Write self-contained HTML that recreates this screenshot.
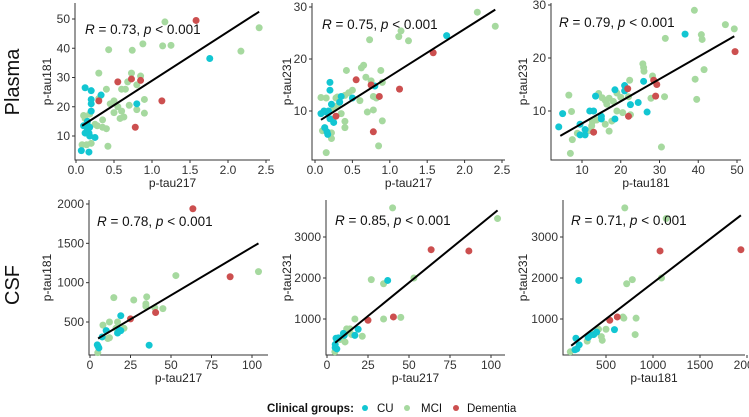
<!DOCTYPE html>
<html><head><meta charset="utf-8"><style>
html,body{margin:0;padding:0;background:#fff;width:749px;height:417px;overflow:hidden}
svg{font-family:"Liberation Sans",Arial,sans-serif}
</style></head><body>
<svg id="fig" width="749" height="417" viewBox="0 0 749 417" xmlns="http://www.w3.org/2000/svg">
<text x="0" y="0" transform="translate(19,82) rotate(-90)" text-anchor="middle" font-size="20" fill="#111">Plasma</text>
<text x="0" y="0" transform="translate(19,285) rotate(-90)" text-anchor="middle" font-size="20" fill="#111">CSF</text>
<g>
<text x="267" y="412" font-size="11.5" font-weight="bold" fill="#111">Clinical groups:</text>
<circle cx="365" cy="408" r="3" fill="#12c6d2"/>
<text x="377" y="412" font-size="11.5" fill="#111">CU</text>
<circle cx="407" cy="408" r="3" fill="#a6d99f"/>
<text x="421" y="412" font-size="11.5" fill="#111">MCI</text>
<circle cx="456" cy="408" r="3" fill="#cc4f4f"/>
<text x="467" y="412" font-size="11.5" fill="#111">Dementia</text>
</g>
</svg>
<script>
const groupColors = {CU:"#12c6d2", MCI:"#a6d99f", Dementia:"#cc4f4f"};
const p1CU = [[0.07,5],[0.17,4.5],[0.12,11],[0.15,12],[0.18,10],[0.25,9.5],[0.18,13],[0.10,13.5],[0.2,18.5],[0.2,21],[0.2,22.5],[0.2,25.5],[0.12,26.5],[0.33,24],[0.8,21],[1.76,36.5],[0.15,15],[0.17,11]];
const p1MCI = [[1.17,49],[2.41,47],[2.17,39],[0.88,41.5],[1.14,40.8],[1.25,41],[0.43,39.5],[0.74,39.3],[0.3,31.5],[0.73,31.5],[0.85,30.5],[0.68,28.5],[0.8,27.5],[0.6,26],[0.65,26],[0.4,26],[0.9,22.5],[0.5,22],[0.55,20],[0.7,20.5],[0.8,19],[0.6,18.5],[0.5,18],[0.9,17.8],[0.63,16.5],[0.58,16],[0.35,15.5],[0.28,13.5],[0.35,13],[0.4,12.5],[0.25,14],[0.42,6.5],[0.2,7.5],[0.14,7],[0.08,7],[0.1,17],[0.12,16],[0.15,14],[0.18,17.5],[0.3,22.8],[0.45,21]];
const p1Dem = [[1.58,49.5],[0.55,28.5],[0.73,29.5],[0.85,29],[1.13,22],[0.3,22],[0.78,13]];
const p1Fit = [[0.08,13.5],[2.41,52.5]];
const p2CU = [[0.08,9.5],[0.12,10],[0.15,9.8],[0.2,15.5],[0.2,14],[0.22,11.3],[0.33,11.7],[0.35,12.8],[0.13,6.8],[0.17,5.5],[0.16,6],[0.18,10],[0.25,7.8],[0.5,12.5],[0.8,14.8],[1.76,24.5],[0.2,8.5]];
const p2MCI = [[2.17,29],[2.41,26.3],[1.15,25.4],[1.12,24.3],[1.25,23.5],[0.73,23.7],[0.65,18.8],[0.62,18.3],[0.42,17.8],[0.88,17.8],[0.68,16.5],[0.75,15.8],[0.9,15.5],[0.5,14],[0.45,13.5],[0.4,13],[0.3,12.7],[0.6,12],[0.28,12.5],[0.15,12.5],[0.08,12.6],[0.78,12.8],[0.82,12.5],[0.78,10.2],[0.7,9.8],[0.9,8.1],[0.4,8],[0.4,6.8],[0.35,9.5],[0.22,5.8],[0.22,4.7],[0.1,6.2],[0.15,2],[0.85,3.3],[0.3,11],[0.25,10.5]];
const p2Dem = [[0.28,9],[0.55,16],[0.75,15],[0.86,12.8],[0.78,6],[1.13,14.2],[1.58,21.2]];
const p2Fit = [[0.08,8.3],[2.41,29.5]];
const p3CU = [[4,7],[5,9.5],[9.5,7.5],[9.5,5.5],[10.8,5.5],[10.8,6.5],[12,10],[13,10],[13.5,12.8],[15,8.5],[15,9],[18.5,8.5],[18.5,14],[21,14.8],[21,13.8],[22.5,11.2],[24.5,11.6],[25.9,15.6],[26.8,9.8],[36.6,24.5]];
const p3MCI = [[7,2],[7.5,4.6],[6.6,13],[7.3,9.9],[8.8,5.8],[12,6.3],[12.5,7.2],[12.7,8],[13.8,8.3],[14.3,13.3],[15.2,12.5],[16,12],[16.4,11.3],[17,12.4],[16,7.5],[17,6.2],[17.7,8.1],[18.1,11.8],[19,10],[19,13.4],[20,12.6],[20.5,9.7],[22,12.7],[22.3,15.8],[22.5,9.3],[25.7,18.9],[25.9,18.2],[26,17.5],[27.8,12.4],[28.2,16.6],[30.5,3.2],[31.3,12.7],[31.5,23.7],[39,29],[39.2,16],[39.6,12.2],[40.8,24.4],[41,23.5],[41.5,17.8],[47,26.3],[49.3,25.5]];
const p3Dem = [[13,6],[21.8,14.2],[22,9],[28.5,15.8],[29.3,15],[29,12.8],[49.5,21.2]];
const p3Fit = [[4.4,5.3],[49.3,24.1]];
const p4CU = [[4.5,210],[5,190],[5.5,170],[7.5,310],[10,390],[17,360],[18,400],[19,580],[19,390],[36.5,205]];
const p4MCI = [[104,1140],[53,1090],[14.7,810],[27,780],[35,820],[34.5,730],[34.5,700],[40,680],[45,670],[17,500],[12,500],[8,460],[21,420],[11,290],[4.8,110],[12,300],[16,420]];
const p4Dem = [[63.5,1940],[86.5,1075],[40.5,620],[25,540]];
const p4Fit = [[5,290],[104,1500]];
const p5CU = [[5,380],[5.5,530],[6,270],[7,540],[10,650],[10.5,600],[17,600],[19,750],[37,1940],[5,300]];
const p5MCI = [[40,3710],[104,3450],[27,1960],[34.5,1860],[53,2000],[17,1000],[34.5,1000],[45,1040],[14,760],[12,760],[9,540],[11,440],[15,620],[21.5,580],[4.8,200],[8,500],[12.5,700]];
const p5Dem = [[25,970],[40.5,1050],[63.5,2690],[86.5,2660]];
const p5Fit = [[5,420],[104,3650]];
const p6CU = [[180,530],[190,270],[210,1940],[215,370],[310,550],[330,600],[370,620],[400,680],[590,740],[170,250]];
const p6MCI = [[700,3710],[1140,3450],[720,1860],[780,1960],[1090,2000],[690,1020],[680,1050],[820,1020],[810,620],[500,750],[420,750],[450,570],[300,460],[460,480],[120,200],[350,640]];
const p6Dem = [[540,970],[620,1050],[1075,2660],[1935,2690]];
const p6Fit = [[130,350],[1935,3530]];
const p1XTicks=[0,0.5,1,1.5,2,2.5], p1XLabels=["0.0","0.5","1.0","1.5","2.0","2.5"], p1YTicks=[10,20,30,40,50];
const p2XTicks=[0,0.5,1,1.5,2,2.5], p2XLabels=["0.0","0.5","1.0","1.5","2.0","2.5"], p2YTicks=[10,20,30];
const p3XTicks=[10,20,30,40,50], p3YTicks=[10,20,30];
const p4XTicks=[0,25,50,75,100], p4YTicks=[500,1000,1500,2000];
const p5XTicks=[0,25,50,75,100], p5YTicks=[1000,2000,3000];
const p6XTicks=[500,1000,1500,2000], p6YTicks=[1000,2000,3000];
const p1Stats=["0.73","0.001"], p2Stats=["0.75","0.001"], p3Stats=["0.79","0.001"];
const p4Stats=["0.78","0.001"], p5Stats=["0.85","0.001"], p6Stats=["0.71","0.001"];

const NS="http://www.w3.org/2000/svg";
const svg=document.getElementById('fig');
function mk(tag,attrs,parent){const e=document.createElementNS(NS,tag);for(const k in attrs)e.setAttribute(k,attrs[k]);(parent||svg).appendChild(e);return e;}
function lin(d0,d1,r0,r1){return v=>r0+(v-d0)/(d1-d0)*(r1-r0);}

function panel(id,cfg,cu,mci,dem,fit,xt,xl,yt,stats){
  const g=mk('g',{});
  
  
  const X=lin(cfg.xa[0],cfg.xa[1],cfg.xa[2],cfg.xa[3]);
  const Y=lin(cfg.ya[0],cfg.ya[1],cfg.ya[2],cfg.ya[3]);
  const ax=cfg.ax, bot=cfg.bot, top=cfg.top, right=cfg.right;
  const axes=mk('path',{d:`M${ax},${top}V${bot}H${right}`,fill:'none',stroke:'#333',"stroke-width":1},g);
  
  
  xt.forEach((v,i)=>{
    const px=X(v);
    mk('line',{x1:px,x2:px,y1:bot,y2:bot+3,stroke:'#333'},g);
    const t=mk('text',{x:px,y:bot+14,'text-anchor':'middle','font-size':12,fill:'#333'},g);
    t.textContent=xl?xl[i]:String(v);
    
    
  });
  yt.forEach(v=>{
    const py=Y(v);
    mk('line',{x1:ax-3,x2:ax,y1:py,y2:py,stroke:'#333'},g);
    const t=mk('text',{x:ax-5,y:py+4,'text-anchor':'end','font-size':12,fill:'#333'},g);
    t.textContent=String(v);
    
    
  });
  const xt2=mk('text',{x:(ax+right)/2,y:bot+27,'text-anchor':'middle','font-size':12,fill:'#222'},g);
  xt2.textContent=cfg.xTitle;
  
  
  const yt2=mk('text',{transform:`translate(${cfg.yTitleX},${(top+bot)/2}) rotate(-90)`,'text-anchor':'middle','font-size':12,fill:'#222'},g);
  yt2.textContent=cfg.yTitle;
  
  
  const draw=(arr,grp)=>arr.forEach(p=>{
    const c=mk('circle',{cx:X(p[0]),cy:Y(p[1]),r:3.5,fill:groupColors[grp]},g);
    
    
  });
  draw(mci,'MCI');draw(cu,'CU');draw(dem,'Dementia');
  const fl=mk('line',{x1:X(fit[0][0]),y1:Y(fit[0][1]),x2:X(fit[1][0]),y2:Y(fit[1][1]),stroke:'#000','stroke-width':2},g);
  
  
  const a=mk('text',{x:cfg.annX,y:cfg.annY,'font-size':13.5,fill:'#111'},g);
  
  
  a.innerHTML=`<tspan font-style="italic">R</tspan> = ${stats[0]}, <tspan font-style="italic">p</tspan> &lt; ${stats[1]}`;
}
panel('panel-plasma-217-181',{xa:[0,2.5,76,266],ya:[10,50,136,19],ax:75,bot:160,top:3,right:270,xTitle:'p-tau217',yTitle:'p-tau181',yTitleX:51,annX:85,annY:34},p1CU,p1MCI,p1Dem,p1Fit,p1XTicks,p1XLabels,p1YTicks,p1Stats);
panel('panel-plasma-217-231',{xa:[0,2.5,315,502],ya:[10,30,111,7],ax:312,bot:160,top:3,right:505,xTitle:'p-tau217',yTitle:'p-tau231',yTitleX:291,annX:322,annY:29},p2CU,p2MCI,p2Dem,p2Fit,p2XTicks,p2XLabels,p2YTicks,p2Stats);
panel('panel-plasma-181-231',{xa:[10,50,582,737],ya:[10,30,111,5],ax:551,bot:160,top:3,right:741,xTitle:'p-tau181',yTitle:'p-tau231',yTitleX:527,annX:559,annY:27},p3CU,p3MCI,p3Dem,p3Fit,p3XTicks,null,p3YTicks,p3Stats);
panel('panel-csf-217-181',{xa:[0,100,90,252],ya:[500,2000,322,204],ax:89,bot:355,top:200,right:268,xTitle:'p-tau217',yTitle:'p-tau181',yTitleX:51,annX:97,annY:226},p4CU,p4MCI,p4Dem,p4Fit,p4XTicks,null,p4YTicks,p4Stats);
panel('panel-csf-217-231',{xa:[0,100,327,491],ya:[1000,3000,319,237],ax:326,bot:355,top:200,right:505,xTitle:'p-tau217',yTitle:'p-tau231',yTitleX:291,annX:335,annY:225},p5CU,p5MCI,p5Dem,p5Fit,p5XTicks,null,p5YTicks,p5Stats);
panel('panel-csf-181-231',{xa:[500,1500,606,700],ya:[1000,3000,319,237],ax:563,bot:355,top:200,right:745,xTitle:'p-tau181',yTitle:'p-tau231',yTitleX:527,annX:571,annY:225},p6CU,p6MCI,p6Dem,p6Fit,p6XTicks,null,p6YTicks,p6Stats);
</script>
</body></html>
